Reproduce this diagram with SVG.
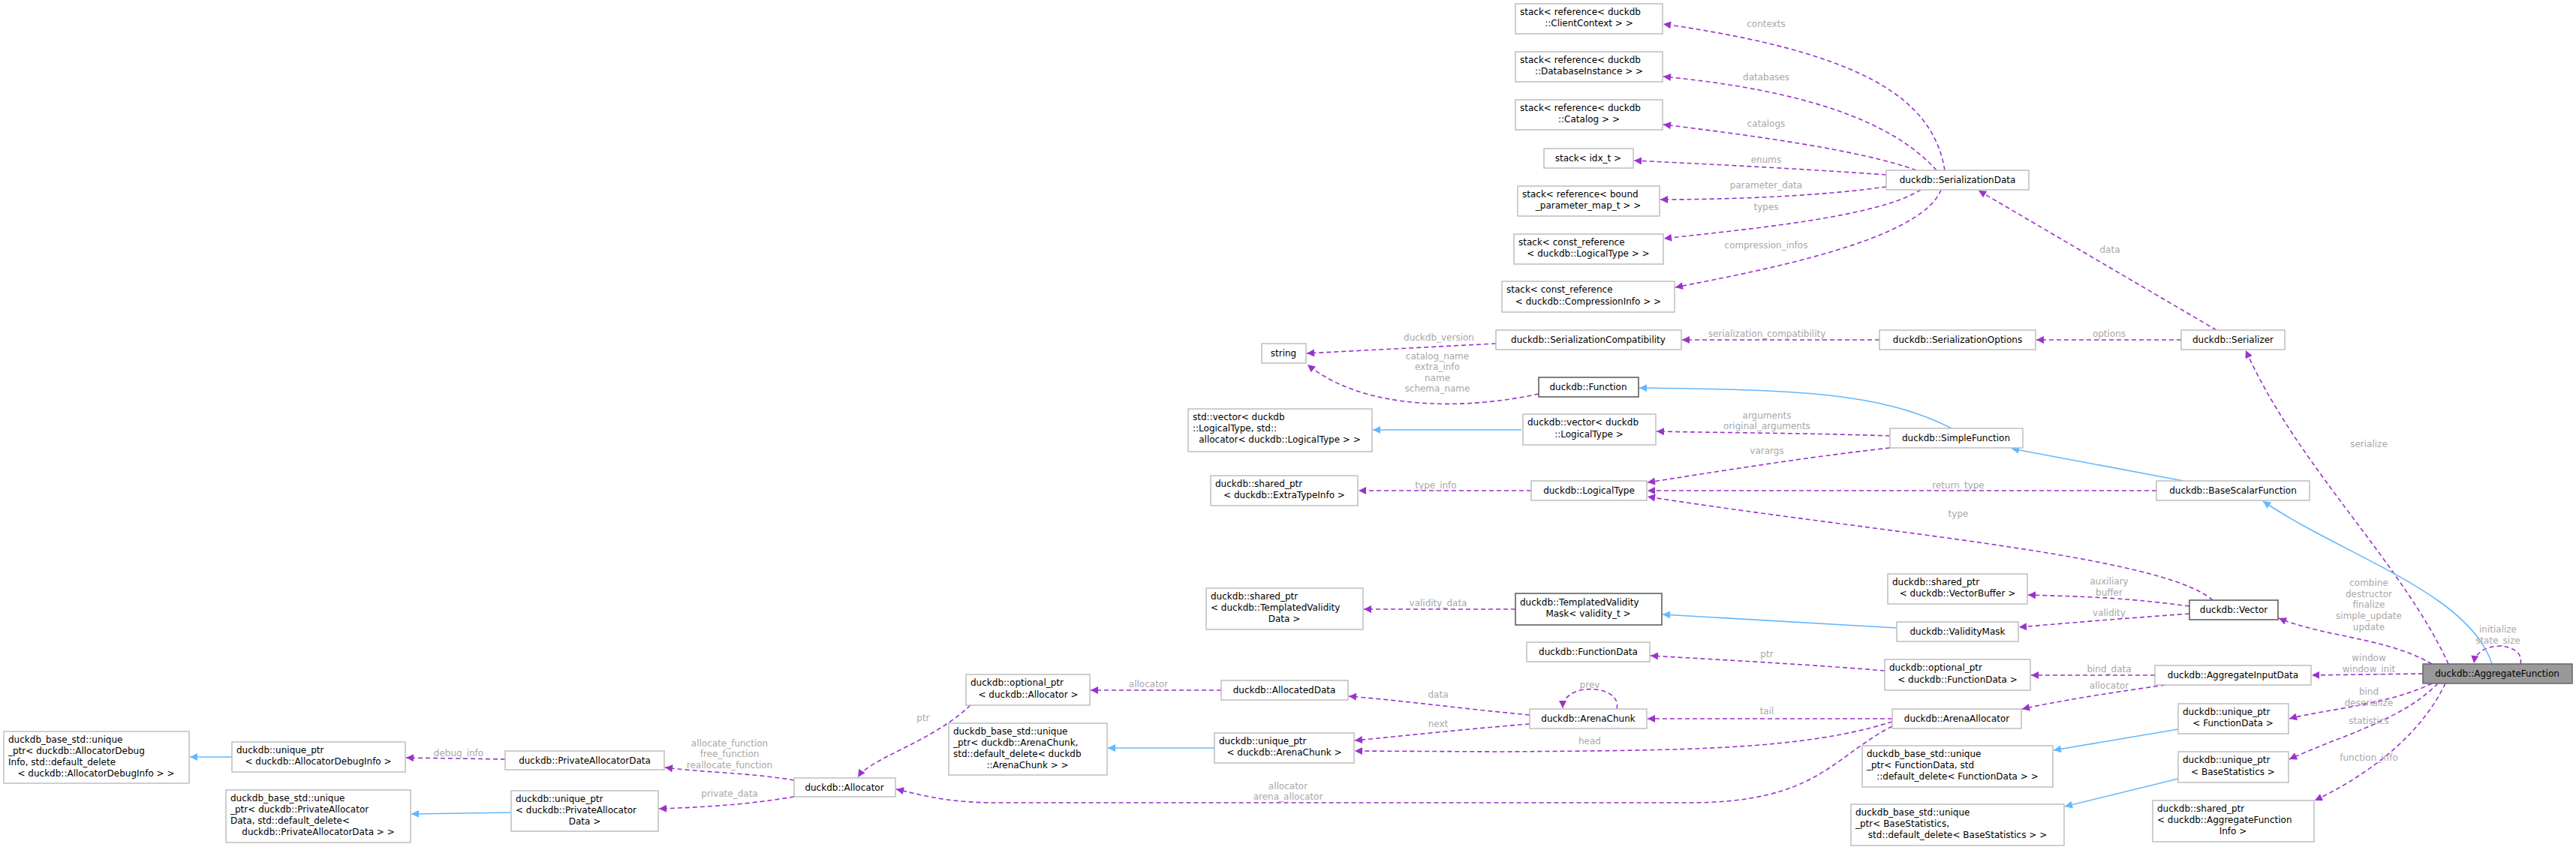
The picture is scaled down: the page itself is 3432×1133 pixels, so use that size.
<svg xmlns="http://www.w3.org/2000/svg" width="3432" height="1133" viewBox="0 0 3432 1133">
<style>
.n rect{fill:#fff;stroke:#bfbfbf;stroke-width:1.5}
.b rect{stroke:#555}
.g rect{fill:#999;stroke:#666}
text{font-family:"DejaVu Sans",sans-serif;font-size:12px;fill:#000}
.l{fill:#a8a8a8;text-anchor:middle}
.c{text-anchor:middle}
#edges path{fill:none}
.p{stroke:#9a32cd;stroke-width:1.6;stroke-dasharray:6,4;marker-end:url(#ap)}
.s{stroke:#63b8ff;stroke-width:1.6;marker-end:url(#as)}
</style>
<defs>
<marker id="ap" viewBox="0 0 10 10" refX="10" refY="5" markerWidth="13" markerHeight="10" markerUnits="userSpaceOnUse" orient="auto"><path d="M0,0L10,5L0,10z" fill="#9a32cd"/></marker>
<marker id="as" viewBox="0 0 10 10" refX="10" refY="5" markerWidth="13" markerHeight="10" markerUnits="userSpaceOnUse" orient="auto"><path d="M0,0L10,5L0,10z" fill="#63b8ff"/></marker>
</defs>
<rect width="3432" height="1133" fill="#fff"/>
<g id="edges">
<path class="p" d="M2591,227 C2575,130 2480,70 2216,32"/>
<path class="p" d="M2580,227 C2520,160 2400,120 2216,102"/>
<path class="p" d="M2553,227 C2480,200 2330,180 2216,166"/>
<path class="p" d="M2513,233 C2400,225 2300,220 2177,214"/>
<path class="p" d="M2513,249 C2420,262 2300,266 2212,266"/>
<path class="p" d="M2559,253 C2500,290 2330,305 2217,318"/>
<path class="p" d="M2586,253 C2560,320 2350,360 2232,383"/>
<path class="p" d="M2953,440 L2636,254"/>
<path class="p" d="M1993,458 L1741,471"/>
<path class="p" d="M2504,453 L2241,453"/>
<path class="p" d="M2906,453 L2713,453"/>
<path class="p" d="M2050,525 C1960,545 1820,550 1742,486"/>
<path class="p" d="M2518,581 C2400,577 2300,577 2207,575"/>
<path class="p" d="M2518,597 C2400,610 2280,630 2195,643"/>
<path class="p" d="M2873,654 L2195,654"/>
<path class="p" d="M2040,654 L1810,654"/>
<path class="p" d="M2948,800 C2880,740 2500,710 2195,662"/>
<path class="p" d="M2917,808 C2820,795 2760,795 2702,793"/>
<path class="p" d="M2917,818 C2820,825 2760,830 2690,836"/>
<path class="p" d="M2019,812 L1817,812"/>
<path class="p" d="M2511,894 C2400,885 2300,880 2199,874"/>
<path class="p" d="M2871,900 L2706,900"/>
<path class="p" d="M2885,913 C2800,925 2740,935 2694,945"/>
<path class="p" d="M2521,958 L2195,958"/>
<path class="p" d="M2521,962 C2400,1000 2250,1000 2000,1002 L1805,1001"/>
<path class="p" d="M2521,968 C2440,1010 2420,1070 2250,1070 L1330,1070 C1260,1070 1230,1060 1194,1052"/>
<path class="p" d="M2038,953 C1950,945 1880,935 1797,928"/>
<path class="p" d="M2038,965 C1950,972 1880,980 1805,987"/>
<path class="p" d="M2154,945 C2162,912 2082,908 2082,944"/>
<path class="p" d="M1627,920 L1453,920"/>
<path class="p" d="M1293,940 C1240,990 1160,1010 1143,1036"/>
<path class="p" d="M1058,1040 C1000,1030 940,1030 886,1023"/>
<path class="p" d="M1058,1062 C1000,1072 940,1076 878,1078"/>
<path class="p" d="M673,1012 L541,1010"/>
<path class="p" d="M3262,885 C3200,750 3060,620 2992,467"/>
<path class="p" d="M3240,885 C3180,850 3100,850 3036,824"/>
<path class="p" d="M3228,898 L3080,900"/>
<path class="p" d="M3240,911 C3180,940 3100,945 3050,958"/>
<path class="p" d="M3248,911 C3200,960 3120,980 3050,1012"/>
<path class="p" d="M3258,911 C3220,990 3140,1040 3084,1067"/>
<path class="p" d="M3358,885 C3365,855 3300,852 3296,884"/>
<path class="s" d="M2909,641 L2680,598"/>
<path class="s" d="M2600,571 C2500,520 2380,520 2184,517"/>
<path class="s" d="M2027,573 L1829,573"/>
<path class="s" d="M3320,885 C3290,790 3120,740 3015,668"/>
<path class="s" d="M2527,837 L2215,819"/>
<path class="s" d="M1618,997 L1476,997"/>
<path class="s" d="M309,1009 L253,1009"/>
<path class="s" d="M681,1083 L548,1085"/>
<path class="s" d="M2902,972 L2736,1000"/>
<path class="s" d="M2902,1038 L2751,1075"/>
<text class="l" x="2353" y="36">contexts</text>
<text class="l" x="2353" y="107">databases</text>
<text class="l" x="2353" y="169">catalogs</text>
<text class="l" x="2353" y="217">enums</text>
<text class="l" x="2353" y="251">parameter_data</text>
<text class="l" x="2353" y="280">types</text>
<text class="l" x="2353" y="331">compression_infos</text>
<text class="l" x="2811" y="337">data</text>
<text class="l" x="1917" y="454">duckdb_version</text>
<text class="l" x="2354" y="449">serialization_compatibility</text>
<text class="l" x="2810" y="449">options</text>
<text class="l" x="1915" y="479">catalog_name</text>
<text class="l" x="1915" y="493">extra_info</text>
<text class="l" x="1915" y="508">name</text>
<text class="l" x="1915" y="522">schema_name</text>
<text class="l" x="2354" y="558">arguments</text>
<text class="l" x="2354" y="572">original_arguments</text>
<text class="l" x="2354" y="605">varargs</text>
<text class="l" x="1913" y="651">type_info</text>
<text class="l" x="2609" y="651">return_type</text>
<text class="l" x="2609" y="689">type</text>
<text class="l" x="2810" y="779">auxiliary</text>
<text class="l" x="2810" y="794">buffer</text>
<text class="l" x="2810" y="821">validity</text>
<text class="l" x="1916" y="808">validity_data</text>
<text class="l" x="2354" y="876">ptr</text>
<text class="l" x="2810" y="896">bind_data</text>
<text class="l" x="2810" y="918">allocator</text>
<text class="l" x="3156" y="781">combine</text>
<text class="l" x="3156" y="796">destructor</text>
<text class="l" x="3156" y="810">finalize</text>
<text class="l" x="3156" y="825">simple_update</text>
<text class="l" x="3156" y="840">update</text>
<text class="l" x="3328" y="843">initialize</text>
<text class="l" x="3328" y="858">state_size</text>
<text class="l" x="3156" y="596">serialize</text>
<text class="l" x="3156" y="881">window</text>
<text class="l" x="3156" y="896">window_init</text>
<text class="l" x="3156" y="926">bind</text>
<text class="l" x="3156" y="941">deserialize</text>
<text class="l" x="3156" y="965">statistics</text>
<text class="l" x="3156" y="1014">function_info</text>
<text class="l" x="2118" y="917">prev</text>
<text class="l" x="1916" y="930">data</text>
<text class="l" x="1916" y="969">next</text>
<text class="l" x="2354" y="952">tail</text>
<text class="l" x="2118" y="992">head</text>
<text class="l" x="1716" y="1052">allocator</text>
<text class="l" x="1716" y="1066">arena_allocator</text>
<text class="l" x="1530" y="916">allocator</text>
<text class="l" x="1230" y="961">ptr</text>
<text class="l" x="611" y="1008">debug_info</text>
<text class="l" x="972" y="995">allocate_function</text>
<text class="l" x="972" y="1009">free_function</text>
<text class="l" x="972" y="1024">reallocate_function</text>
<text class="l" x="972" y="1062">private_data</text>
</g>
<g id="n1" class="n"><rect x="2019" y="5" width="196" height="40"/><text x="2025" y="20">stack&lt; reference&lt; duckdb</text><text class="c" x="2117" y="35">::ClientContext &gt; &gt;</text></g>
<g id="n2" class="n"><rect x="2019" y="69" width="196" height="40"/><text x="2025" y="84">stack&lt; reference&lt; duckdb</text><text class="c" x="2117" y="99">::DatabaseInstance &gt; &gt;</text></g>
<g id="n3" class="n"><rect x="2019" y="133" width="196" height="40"/><text x="2025" y="148">stack&lt; reference&lt; duckdb</text><text class="c" x="2117" y="163">::Catalog &gt; &gt;</text></g>
<g id="n4" class="n"><rect x="2057" y="198" width="119" height="26"/><text class="c" x="2116" y="215">stack&lt; idx_t &gt;</text></g>
<g id="n5" class="n"><rect x="2022" y="248" width="189" height="40"/><text x="2028" y="263">stack&lt; reference&lt; bound</text><text class="c" x="2116" y="278">_parameter_map_t &gt; &gt;</text></g>
<g id="n6" class="n"><rect x="2017" y="312" width="199" height="40"/><text x="2023" y="327">stack&lt; const_reference</text><text class="c" x="2116" y="342">&lt; duckdb::LogicalType &gt; &gt;</text></g>
<g id="n7" class="n"><rect x="2001" y="375" width="230" height="41"/><text x="2007" y="390">stack&lt; const_reference</text><text class="c" x="2116" y="406">&lt; duckdb::CompressionInfo &gt; &gt;</text></g>
<g id="n8" class="n"><rect x="2513" y="227" width="190" height="26"/><text class="c" x="2608" y="244">duckdb::SerializationData</text></g>
<g id="n9" class="n"><rect x="1993" y="440" width="247" height="26"/><text class="c" x="2116" y="457">duckdb::SerializationCompatibility</text></g>
<g id="n10" class="n"><rect x="2504" y="440" width="208" height="26"/><text class="c" x="2608" y="457">duckdb::SerializationOptions</text></g>
<g id="n11" class="n"><rect x="2906" y="440" width="138" height="26"/><text class="c" x="2975" y="457">duckdb::Serializer</text></g>
<g id="n12" class="n"><rect x="1681" y="458" width="59" height="26"/><text class="c" x="1710" y="475">string</text></g>
<g id="n13" class="n b"><rect x="2050" y="503" width="133" height="26"/><text class="c" x="2116" y="520">duckdb::Function</text></g>
<g id="n14" class="n"><rect x="1583" y="545" width="245" height="57"/><text x="1589" y="560">std::vector&lt; duckdb</text><text x="1589" y="575">::LogicalType, std::</text><text class="c" x="1705" y="590">allocator&lt; duckdb::LogicalType &gt; &gt;</text></g>
<g id="n15" class="n"><rect x="2029" y="552" width="177" height="41"/><text x="2035" y="567">duckdb::vector&lt; duckdb</text><text class="c" x="2117" y="583">::LogicalType &gt;</text></g>
<g id="n16" class="n"><rect x="2518" y="571" width="177" height="26"/><text class="c" x="2606" y="588">duckdb::SimpleFunction</text></g>
<g id="n17" class="n"><rect x="1613" y="634" width="196" height="40"/><text x="1619" y="649">duckdb::shared_ptr</text><text class="c" x="1711" y="664">&lt; duckdb::ExtraTypeInfo &gt;</text></g>
<g id="n18" class="n"><rect x="2040" y="641" width="154" height="26"/><text class="c" x="2117" y="658">duckdb::LogicalType</text></g>
<g id="n19" class="n"><rect x="2873" y="641" width="204" height="26"/><text class="c" x="2975" y="658">duckdb::BaseScalarFunction</text></g>
<g id="n20" class="n"><rect x="1607" y="784" width="209" height="55"/><text x="1613" y="799">duckdb::shared_ptr</text><text x="1613" y="814">&lt; duckdb::TemplatedValidity</text><text class="c" x="1711" y="829">Data &gt;</text></g>
<g id="n21" class="n b"><rect x="2019" y="791" width="195" height="42"/><text x="2025" y="807">duckdb::TemplatedValidity</text><text class="c" x="2116" y="822">Mask&lt; validity_t &gt;</text></g>
<g id="n22" class="n"><rect x="2515" y="765" width="186" height="40"/><text x="2521" y="780">duckdb::shared_ptr</text><text class="c" x="2608" y="795">&lt; duckdb::VectorBuffer &gt;</text></g>
<g id="n23" class="n b"><rect x="2917" y="800" width="118" height="26"/><text class="c" x="2976" y="817">duckdb::Vector</text></g>
<g id="n24" class="n"><rect x="2527" y="829" width="162" height="26"/><text class="c" x="2608" y="846">duckdb::ValidityMask</text></g>
<g id="n25" class="n"><rect x="2034" y="856" width="164" height="26"/><text class="c" x="2116" y="873">duckdb::FunctionData</text></g>
<g id="n26" class="n"><rect x="2511" y="879" width="194" height="41"/><text x="2517" y="894">duckdb::optional_ptr</text><text class="c" x="2608" y="910">&lt; duckdb::FunctionData &gt;</text></g>
<g id="n27" class="n"><rect x="2871" y="887" width="208" height="26"/><text class="c" x="2975" y="904">duckdb::AggregateInputData</text></g>
<g id="n28" class="n g"><rect x="3228" y="885" width="199" height="26"/><text class="c" x="3327" y="902">duckdb::AggregateFunction</text></g>
<g id="n29" class="n"><rect x="1287" y="899" width="165" height="41"/><text x="1293" y="914">duckdb::optional_ptr</text><text class="c" x="1370" y="930">&lt; duckdb::Allocator &gt;</text></g>
<g id="n30" class="n"><rect x="1627" y="907" width="169" height="26"/><text class="c" x="1711" y="924">duckdb::AllocatedData</text></g>
<g id="n31" class="n"><rect x="1264" y="964" width="211" height="69"/><text x="1270" y="979">duckdb_base_std::unique</text><text x="1270" y="994">_ptr&lt; duckdb::ArenaChunk,</text><text x="1270" y="1009">std::default_delete&lt; duckdb</text><text class="c" x="1369" y="1024">::ArenaChunk &gt; &gt;</text></g>
<g id="n32" class="n"><rect x="1618" y="977" width="186" height="40"/><text x="1624" y="992">duckdb::unique_ptr</text><text class="c" x="1711" y="1007">&lt; duckdb::ArenaChunk &gt;</text></g>
<g id="n33" class="n"><rect x="2038" y="945" width="156" height="26"/><text class="c" x="2116" y="962">duckdb::ArenaChunk</text></g>
<g id="n34" class="n"><rect x="2521" y="945" width="172" height="26"/><text class="c" x="2607" y="962">duckdb::ArenaAllocator</text></g>
<g id="n35" class="n"><rect x="2902" y="938" width="147" height="40"/><text x="2908" y="953">duckdb::unique_ptr</text><text class="c" x="2975" y="968">&lt; FunctionData &gt;</text></g>
<g id="n36" class="n"><rect x="2481" y="994" width="254" height="55"/><text x="2487" y="1009">duckdb_base_std::unique</text><text x="2487" y="1024">_ptr&lt; FunctionData, std</text><text class="c" x="2608" y="1039">::default_delete&lt; FunctionData &gt; &gt;</text></g>
<g id="n37" class="n"><rect x="2902" y="1002" width="147" height="41"/><text x="2908" y="1017">duckdb::unique_ptr</text><text class="c" x="2975" y="1033">&lt; BaseStatistics &gt;</text></g>
<g id="n38" class="n"><rect x="2466" y="1072" width="284" height="55"/><text x="2472" y="1087">duckdb_base_std::unique</text><text x="2472" y="1102">_ptr&lt; BaseStatistics,</text><text class="c" x="2608" y="1117">std::default_delete&lt; BaseStatistics &gt; &gt;</text></g>
<g id="n39" class="n"><rect x="2868" y="1067" width="215" height="55"/><text x="2874" y="1082">duckdb::shared_ptr</text><text x="2874" y="1097">&lt; duckdb::AggregateFunction</text><text class="c" x="2975" y="1112">Info &gt;</text></g>
<g id="n40" class="n"><rect x="1058" y="1037" width="135" height="25"/><text class="c" x="1125" y="1054">duckdb::Allocator</text></g>
<g id="n41" class="n"><rect x="673" y="1001" width="212" height="25"/><text class="c" x="779" y="1018">duckdb::PrivateAllocatorData</text></g>
<g id="n42" class="n"><rect x="309" y="989" width="231" height="40"/><text x="315" y="1004">duckdb::unique_ptr</text><text class="c" x="424" y="1019">&lt; duckdb::AllocatorDebugInfo &gt;</text></g>
<g id="n43" class="n"><rect x="5" y="975" width="247" height="69"/><text x="11" y="990">duckdb_base_std::unique</text><text x="11" y="1005">_ptr&lt; duckdb::AllocatorDebug</text><text x="11" y="1020">Info, std::default_delete</text><text class="c" x="128" y="1035">&lt; duckdb::AllocatorDebugInfo &gt; &gt;</text></g>
<g id="n44" class="n"><rect x="681" y="1054" width="196" height="54"/><text x="687" y="1069">duckdb::unique_ptr</text><text x="687" y="1084">&lt; duckdb::PrivateAllocator</text><text class="c" x="779" y="1099">Data &gt;</text></g>
<g id="n45" class="n"><rect x="301" y="1053" width="246" height="70"/><text x="307" y="1068">duckdb_base_std::unique</text><text x="307" y="1083">_ptr&lt; duckdb::PrivateAllocator</text><text x="307" y="1098">Data, std::default_delete&lt;</text><text class="c" x="424" y="1113">duckdb::PrivateAllocatorData &gt; &gt;</text></g>
</svg>
